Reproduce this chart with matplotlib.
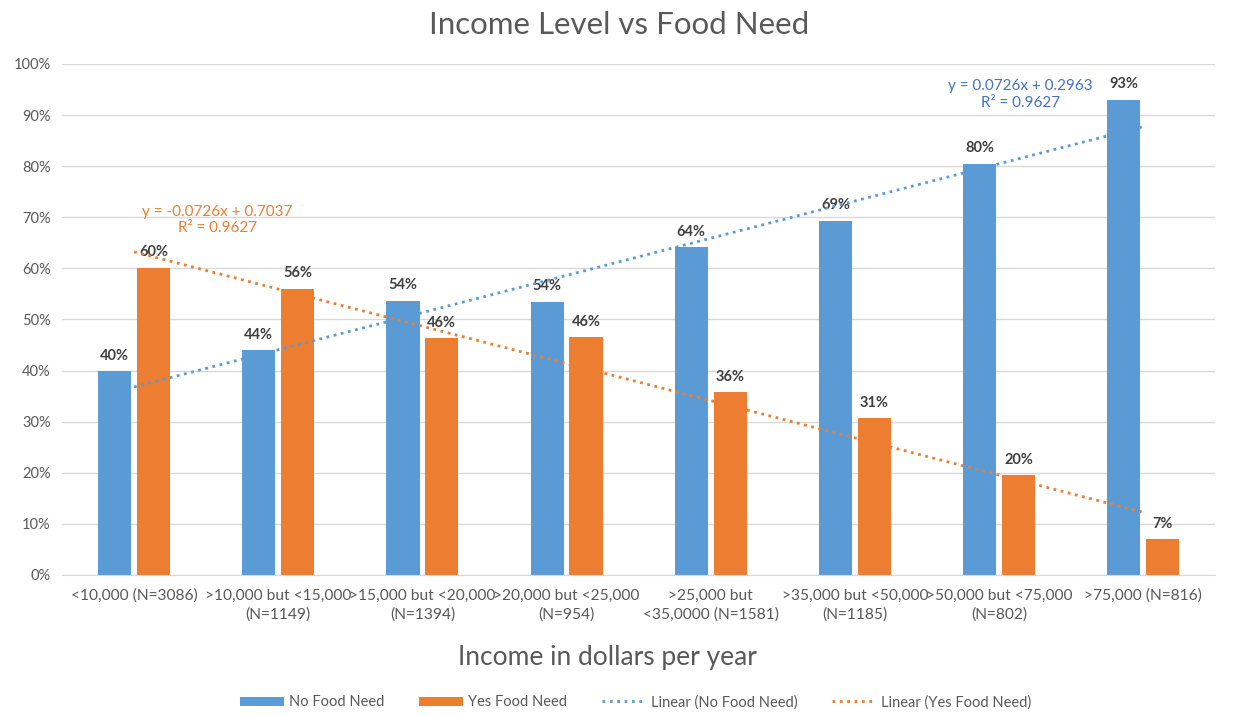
import numpy as np
import matplotlib.pyplot as plt
from matplotlib.ticker import FuncFormatter

plt.rcParams['font.family'] = ['Lato', 'DejaVu Sans']

categories = ['<10,000 (N=3086)', '>10,000 but <15,000\n(N=1149)',
              '>15,000 but <20,000\n(N=1394)', '>20,000 but <25,000\n(N=954)',
              '>25,000 but\n<35,0000 (N=1581)', '>35,000 but <50,000\n(N=1185)',
              '>50,000 but <75,000\n(N=802)', '>75,000 (N=816)']
no_need = [0.399, 0.440, 0.537, 0.535, 0.642, 0.693, 0.805, 0.930]
yes_need = [0.601, 0.560, 0.463, 0.465, 0.358, 0.307, 0.195, 0.070]

BLUE = '#5B9BD5'
ORANGE = '#ED7D31'
GREY = '#595959'

fig = plt.figure(figsize=(12.39, 7.15), dpi=100)
ax = fig.add_axes([0.050, 0.196, 0.931, 0.7145])

x = np.arange(len(categories))
w = 0.23
off = 0.135
b1 = ax.bar(x - off, no_need, w, color=BLUE, label='No Food Need', zorder=2)
b2 = ax.bar(x + off, yes_need, w, color=ORANGE, label='Yes Food Need', zorder=2)

for bars, vals in ((b1, no_need), (b2, yes_need)):
    for r, v in zip(bars, vals):
        ax.annotate(f'{v*100:.0f}%', (r.get_x() + r.get_width()/2, v),
                    xytext=(0, 6), textcoords='offset points', ha='center',
                    va='bottom', fontsize=10.5, fontweight='bold', color='#404040')

# linear trendlines (Excel style, x = 1..n)
xn = x + 1
pb = np.polyfit(xn, no_need, 1)
po = np.polyfit(xn, yes_need, 1)
l1, = ax.plot(x, np.polyval(pb, xn), ':', color=BLUE, lw=2, label='Linear (No Food Need)', zorder=3)
l2, = ax.plot(x, np.polyval(po, xn), ':', color=ORANGE, lw=2, label='Linear (Yes Food Need)', zorder=3)

ax.text(0.58, 0.71, 'y = -0.0726x + 0.7037', color=ORANGE, ha='center', va='center', fontsize=11)
ax.text(0.58, 0.678, 'R² = 0.9627', color=ORANGE, ha='center', va='center', fontsize=11)
ax.text(6.15, 0.957, 'y = 0.0726x + 0.2963', color='#4472C4', ha='center', va='center', fontsize=11)
ax.text(6.15, 0.924, 'R² = 0.9627', color='#4472C4', ha='center', va='center', fontsize=11)

ax.set_xlim(-0.5, 7.5)
ax.set_ylim(0, 1.0)
ax.set_yticks(np.arange(0, 1.01, 0.1))
ax.yaxis.set_major_formatter(FuncFormatter(lambda v, p: f'{v*100:.0f}%'))
ax.set_xticks(x)
ax.set_xticklabels(categories, fontsize=11.2, color=GREY, linespacing=1.4)
ax.tick_params(axis='y', labelsize=10.5, labelcolor=GREY, length=0, pad=8)
ax.tick_params(axis='x', length=0, pad=10)
ax.grid(axis='y', color='#D9D9D9', lw=1, zorder=0)
for s in ('top', 'right', 'left'):
    ax.spines[s].set_visible(False)
ax.spines['bottom'].set_color('#D9D9D9')

fig.suptitle('Income Level vs Food Need', fontsize=22.5, color=GREY, y=0.985)
fig.text(0.49, 0.08, 'Income in dollars per year', ha='center', va='center',
         fontsize=19, color=GREY)

fig.legend(handles=[b1, b2, l1, l2], loc='center', bbox_to_anchor=(0.513, 0.018),
           ncol=4, frameon=False, fontsize=10.5, handlelength=3.0,
           columnspacing=2.4, labelcolor=GREY, handleheight=0.6, handletextpad=0.35)

fig.savefig('out.png', dpi=100)
